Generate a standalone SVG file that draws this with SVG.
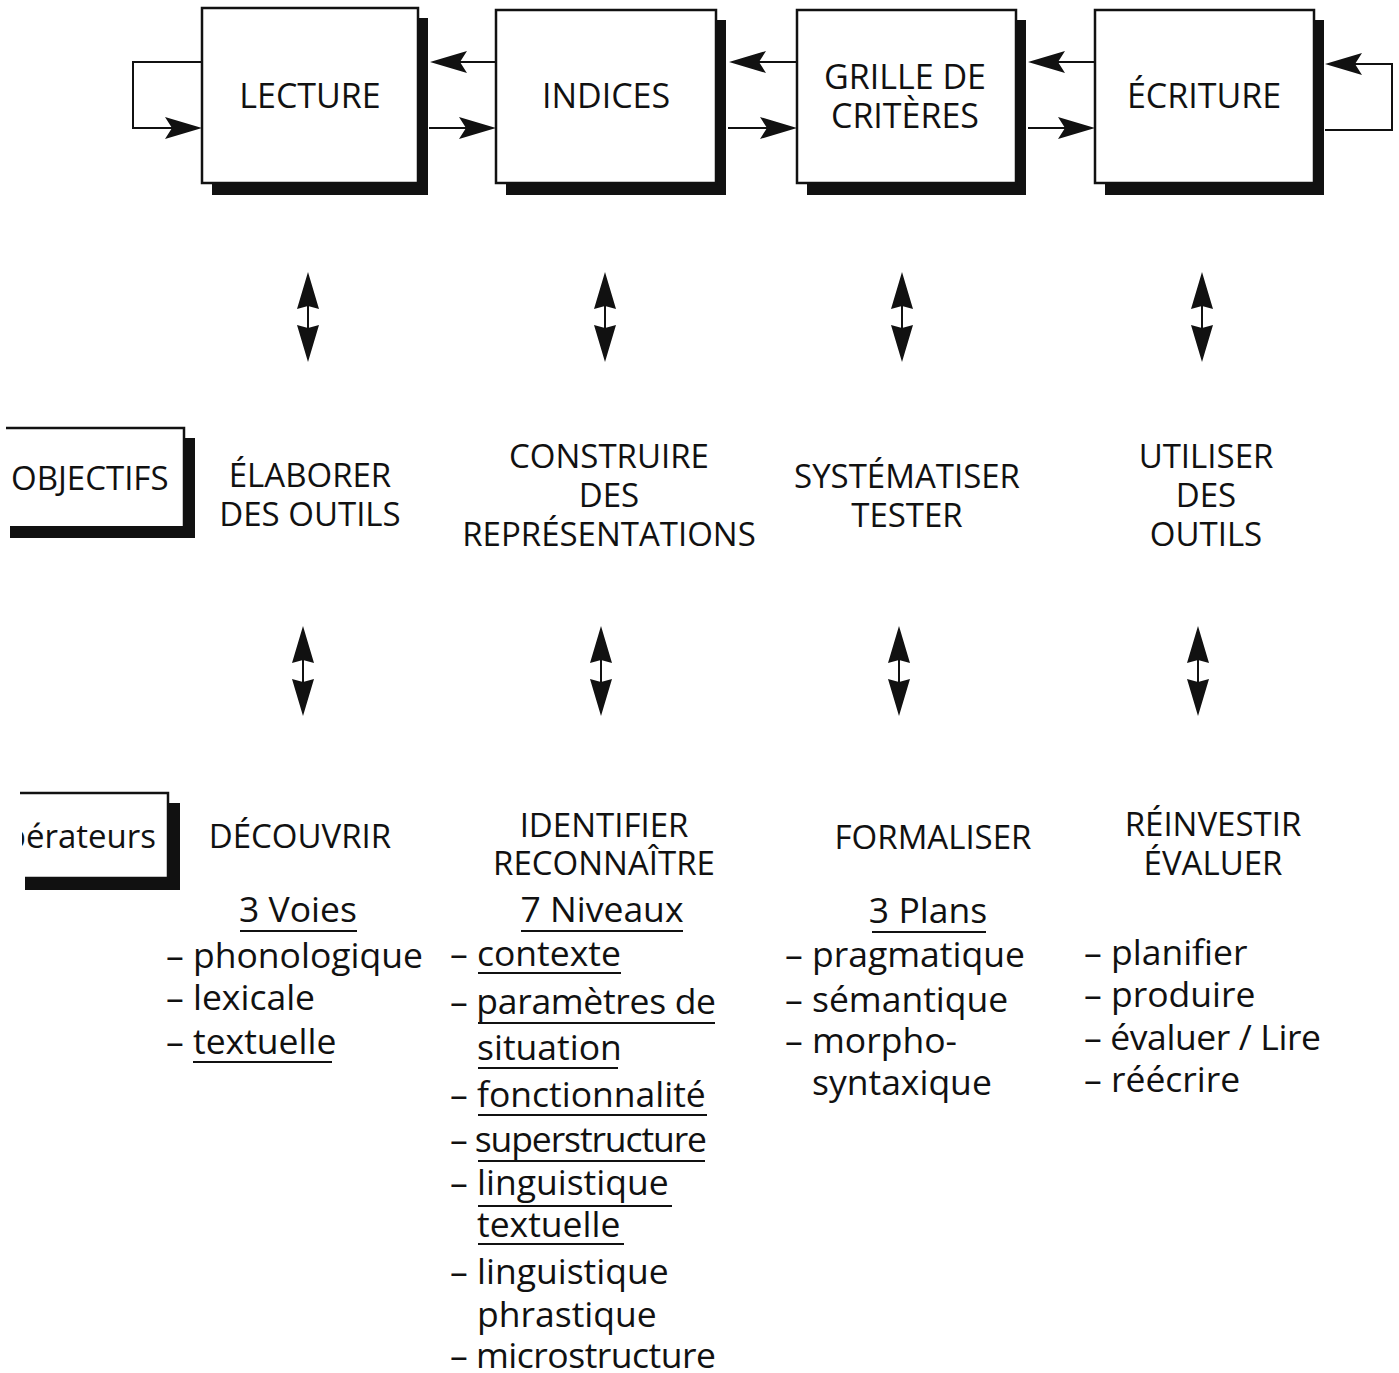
<svg xmlns="http://www.w3.org/2000/svg" width="1399" height="1373" viewBox="0 0 1399 1373">
<style>
text{font-family:"Open Sans","Noto Sans","DejaVu Sans",sans-serif;fill:#111}
.box{fill:#fff;stroke:#111;stroke-width:2.5}
.sh{fill:#111}
.t1{font-size:34px;text-anchor:middle}
.t2{font-size:33px;text-anchor:middle}
.lb{font-size:33px;text-anchor:start}
.li{font-size:35.5px}
.hd{font-size:35.5px;text-anchor:middle}
.ul{stroke:#111;stroke-width:2}
.cn{fill:none;stroke:#111;stroke-width:2}
.ah{fill:#111}
</style>
<defs>
<polygon id="ah" points="0,0 -37,-11 -30,0 -37,11"/>
<g id="dbl">
<polygon points="0,0 -11,37 0,34 11,37"/>
<line x1="0" y1="34" x2="0" y2="56" stroke="#111" stroke-width="2"/>
<polygon points="0,90 -11,53 0,56 11,53"/>
</g>
<clipPath id="clipOp"><rect x="22" y="780" width="200" height="120"/></clipPath>
</defs>

<g id="connectors">
<path class="cn" d="M202,62 H133 V128 H180"/>
<use href="#ah" class="ah" transform="translate(202,128)"/>
<path class="cn" d="M496,62 H450"/>
<use href="#ah" class="ah" transform="translate(430,62) rotate(180)"/>
<path class="cn" d="M429,128 H470"/>
<use href="#ah" class="ah" transform="translate(496,128)"/>
<path class="cn" d="M797,62 H750"/>
<use href="#ah" class="ah" transform="translate(729,62) rotate(180)"/>
<path class="cn" d="M728,128 H770"/>
<use href="#ah" class="ah" transform="translate(797,128)"/>
<path class="cn" d="M1095,62 H1050"/>
<use href="#ah" class="ah" transform="translate(1028,62) rotate(180)"/>
<path class="cn" d="M1028,128 H1070"/>
<use href="#ah" class="ah" transform="translate(1095,128)"/>
<path class="cn" d="M1325,130 H1392 V64 H1350"/>
<use href="#ah" class="ah" transform="translate(1325,64) rotate(180)"/>
<use href="#dbl" class="ah" transform="translate(308,272)"/>
<use href="#dbl" class="ah" transform="translate(605,272)"/>
<use href="#dbl" class="ah" transform="translate(902,272)"/>
<use href="#dbl" class="ah" transform="translate(1202,272)"/>
<use href="#dbl" class="ah" transform="translate(303,626)"/>
<use href="#dbl" class="ah" transform="translate(601,626)"/>
<use href="#dbl" class="ah" transform="translate(899,626)"/>
<use href="#dbl" class="ah" transform="translate(1198,626)"/>
</g>

<g id="lecture">
<rect class="sh" x="212" y="18" width="216" height="177"/>
<rect class="box" x="202" y="8" width="216" height="175"/>
<text class="t1" x="310" y="108">LECTURE</text>
</g>
<g id="indices">
<rect class="sh" x="506" y="20" width="220" height="175"/>
<rect class="box" x="496" y="10" width="220" height="173"/>
<text class="t1" x="606" y="108">INDICES</text>
</g>
<g id="grille">
<rect class="sh" x="807" y="20" width="219" height="175"/>
<rect class="box" x="797" y="10" width="219" height="173"/>
<text class="t1" x="905" y="89">GRILLE DE</text>
<text class="t1" x="905" y="128">CRITÈRES</text>
</g>
<g id="ecriture">
<rect class="sh" x="1105" y="20" width="219" height="175"/>
<rect class="box" x="1095" y="10" width="219" height="173"/>
<text class="t1" x="1204" y="108">ÉCRITURE</text>
</g>

<g id="objectifs">
<path class="sh" d="M184,438 H195 V538 H10 V526 H184 Z"/>
<path d="M6,428 H184 V528 H10" fill="none" stroke="#111" stroke-width="2.5"/>
<text class="lb" x="11" y="490">OBJECTIFS</text>
</g>
<g id="elaborer">
<text class="t2" x="310" y="487">ÉLABORER</text>
<text class="t2" x="310" y="526">DES OUTILS</text>
</g>
<g id="construire">
<text class="t2" x="609" y="468">CONSTRUIRE</text>
<text class="t2" x="609" y="507">DES</text>
<text class="t2" x="609" y="546">REPRÉSENTATIONS</text>
</g>
<g id="systematiser">
<text class="t2" x="907" y="488">SYSTÉMATISER</text>
<text class="t2" x="907" y="527">TESTER</text>
</g>
<g id="utiliser">
<text class="t2" x="1206" y="468">UTILISER</text>
<text class="t2" x="1206" y="507">DES</text>
<text class="t2" x="1206" y="546">OUTILS</text>
</g>

<g id="operateurs">
<path class="sh" d="M168,803 H180 V890 H25 V878 H168 Z"/>
<path d="M20,793 H168 V878 H25" fill="none" stroke="#111" stroke-width="2.5"/>
<text class="t2" x="156" y="848" style="text-anchor:end" clip-path="url(#clipOp)">Opérateurs</text>
</g>

<g id="decouvrir">
<text class="t2" x="300" y="848">DÉCOUVRIR</text>
<text class="hd" x="298" y="922">3 Voies</text>
<line class="ul" x1="240" y1="931" x2="357" y2="931"/>
<text class="li" x="166" y="968">– phonologique</text>
<text class="li" x="166" y="1010">– lexicale</text>
<text class="li" x="166" y="1054">– textuelle</text>
<line class="ul" x1="193" y1="1062" x2="332" y2="1062"/>
</g>

<g id="identifier">
<text class="t2" x="604" y="837">IDENTIFIER</text>
<text class="t2" x="604" y="875">RECONNAÎTRE</text>
<text class="hd" x="602" y="922">7 Niveaux</text>
<line class="ul" x1="521" y1="931" x2="683" y2="931"/>
<text class="li" x="450" y="966">– contexte</text>
<line class="ul" x1="478" y1="973" x2="621" y2="973"/>
<text class="li" x="450" y="1014" textLength="266">– paramètres de</text>
<line class="ul" x1="478" y1="1023" x2="715" y2="1023"/>
<text class="li" x="477" y="1060">situation</text>
<line class="ul" x1="478" y1="1068" x2="618" y2="1068"/>
<text class="li" x="450" y="1107">– fonctionnalité</text>
<line class="ul" x1="478" y1="1115" x2="707" y2="1115"/>
<text class="li" x="450" y="1152" textLength="257">– superstructure</text>
<line class="ul" x1="478" y1="1161" x2="705" y2="1161"/>
<text class="li" x="450" y="1195">– linguistique</text>
<line class="ul" x1="478" y1="1206" x2="672" y2="1206"/>
<text class="li" x="477" y="1237">textuelle</text>
<line class="ul" x1="478" y1="1244" x2="624" y2="1244"/>
<text class="li" x="450" y="1284">– linguistique</text>
<text class="li" x="477" y="1327">phrastique</text>
<text class="li" x="450" y="1368" textLength="266">– microstructure</text>
</g>

<g id="formaliser">
<text class="t2" x="933" y="849">FORMALISER</text>
<text class="hd" x="928" y="923">3 Plans</text>
<line class="ul" x1="872" y1="932" x2="986" y2="932"/>
<text class="li" x="785" y="967">– pragmatique</text>
<text class="li" x="785" y="1012">– sémantique</text>
<text class="li" x="785" y="1053">– morpho-</text>
<text class="li" x="812" y="1095">syntaxique</text>
</g>

<g id="reinvestir">
<text class="t2" x="1213" y="836">RÉINVESTIR</text>
<text class="t2" x="1213" y="875">ÉVALUER</text>
<text class="li" x="1084" y="965">– planifier</text>
<text class="li" x="1084" y="1007">– produire</text>
<text class="li" x="1084" y="1050" textLength="237">– évaluer / Lire</text>
<text class="li" x="1084" y="1092">– réécrire</text>
</g>
</svg>
